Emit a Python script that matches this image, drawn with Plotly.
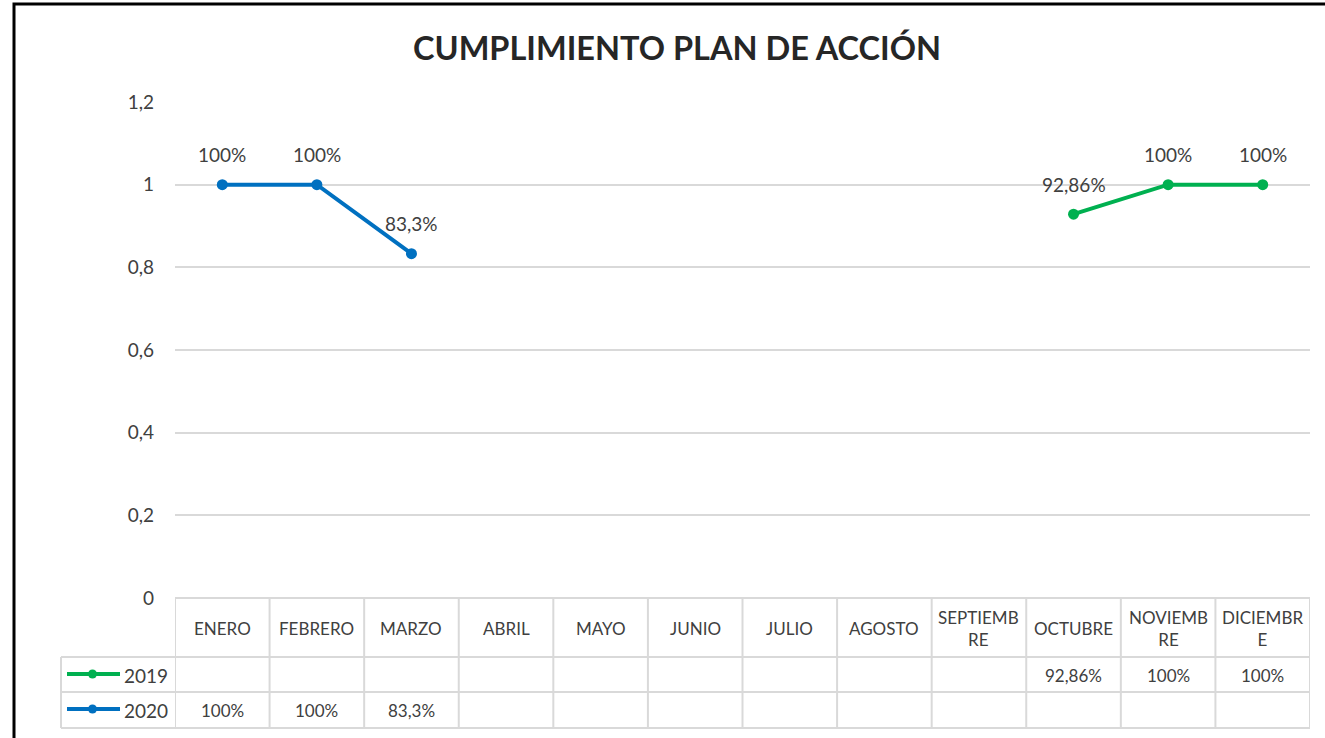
import plotly.graph_objects as go

# datos del grafico
meses = ["ENERO", "FEBRERO", "MARZO", "ABRIL", "MAYO", "JUNIO",
         "JULIO", "AGOSTO", "SEPTIEMBRE", "OCTUBRE", "NOVIEMBRE", "DICIEMBRE"]
meses_tabla = ["ENERO", "FEBRERO", "MARZO", "ABRIL", "MAYO", "JUNIO",
               "JULIO", "AGOSTO", "SEPTIEMB<br>RE", "OCTUBRE", "NOVIEMB<br>RE", "DICIEMBR<br>E"]
valores_2019 = [None, None, None, None, None, None, None, None, None, 0.9286, 1.0, 1.0]
etiquetas_2019 = ["", "", "", "", "", "", "", "", "", "92,86%", "100%", "100%"]
valores_2020 = [1.0, 1.0, 0.833, None, None, None, None, None, None, None, None, None]
etiquetas_2020 = ["100%", "100%", "83,3%", "", "", "", "", "", "", "", "", ""]

series = [
    ("2019", valores_2019, etiquetas_2019, "#00B050"),
    ("2020", valores_2020, etiquetas_2020, "#0070C0"),
]

W, H = 1325, 738
L, R, T, B = 175, 15, 102, 140
FONT = "Lato"
GRIS = "#d9d9d9"
TEXTO = "#404040"


# pixeles -> coordenadas paper
def px(x):
    return (x - L) / (W - L - R)


def py(y):
    return (H - B - y) / (H - T - B)


fig = go.Figure()
for nombre, vals, etiq, color in series:
    fig.add_trace(go.Scatter(x=meses, y=vals, mode='lines+markers', name=nombre,
                             line=dict(color=color, width=4), marker=dict(color=color, size=11),
                             connectgaps=False, showlegend=False, hoverinfo='skip'))

shapes = []
annotations = []

# marco del grafico
shapes.append(dict(type='rect', xref='paper', yref='paper', x0=px(14), x1=px(1345), y0=py(4), y1=py(760),
                   line=dict(color='black', width=3)))

# tabla de datos
filas_y = [598, 657, 692, 728]
shapes.append(dict(type='line', xref='paper', yref='paper', x0=px(175), x1=px(1310), y0=py(598), y1=py(598),
                   line=dict(color=GRIS, width=2)))
for yy in filas_y[1:]:
    shapes.append(dict(type='line', xref='paper', yref='paper', x0=px(61), x1=px(1310), y0=py(yy), y1=py(yy),
                       line=dict(color=GRIS, width=2)))
shapes.append(dict(type='line', xref='paper', yref='paper', x0=px(61), x1=px(61), y0=py(657), y1=py(728),
                   line=dict(color=GRIS, width=2)))
for i in range(len(meses) + 1):
    shapes.append(dict(type='line', xref='x', yref='paper', x0=i - 0.5, x1=i - 0.5, y0=py(598), y1=py(728),
                       line=dict(color=GRIS, width=2)))

for i, m in enumerate(meses_tabla):
    annotations.append(dict(x=meses[i], xref='x', y=py(628), yref='paper', text=m, showarrow=False,
                            font=dict(family=FONT, size=17, color=TEXTO), yanchor='middle'))

for k, (nombre, vals, etiq, color) in enumerate(series):
    yc = [675, 710][k]
    for i, t in enumerate(etiq):
        if t:
            annotations.append(dict(x=meses[i], xref='x', y=py(yc), yref='paper', text=t, showarrow=False,
                                    font=dict(family=FONT, size=17, color=TEXTO), yanchor='middle'))
            annotations.append(dict(x=meses[i], xref='x', y=vals[i], yref='y', text=t, showarrow=False,
                                    yshift=30, font=dict(family=FONT, size=19, color=TEXTO), yanchor='middle'))
    annotations.append(dict(x=px(146), xref='paper', y=py(yc), yref='paper', text=nombre, showarrow=False,
                            font=dict(family=FONT, size=19, color=TEXTO), xanchor='center', yanchor='middle'))
    # simbolo de leyenda
    shapes.append(dict(type='line', xref='paper', yref='paper', x0=px(67), x1=px(120), y0=py(yc - 1), y1=py(yc - 1),
                       line=dict(color=color, width=4)))
    shapes.append(dict(type='circle', xref='paper', yref='paper', x0=px(88), x1=px(97), y0=py(yc + 3.5), y1=py(yc - 5.5),
                       fillcolor=color, line=dict(color=color, width=0)))

annotations.append(dict(x=px(677), xref='paper', y=py(47), yref='paper', text="<b>CUMPLIMIENTO PLAN DE ACCIÓN</b>",
                        showarrow=False, font=dict(family=FONT, size=32.5, color="#262626"),
                        xanchor='center', yanchor='middle'))

fig.update_layout(
    width=W, height=H, margin=dict(l=L, r=R, t=T, b=B),
    plot_bgcolor='white', paper_bgcolor='white', separators=',.',
    shapes=shapes, annotations=annotations,
    xaxis=dict(type='category', range=[-0.5, 11.5], showticklabels=False, showgrid=False, zeroline=False),
    yaxis=dict(range=[0, 1.2], dtick=0.2, showgrid=True, gridcolor=GRIS, gridwidth=2, zeroline=False,
               ticks='', ticklabelstandoff=20, tickfont=dict(family=FONT, size=19, color=TEXTO)),
)

fig.write_html("out.html", config={'displayModeBar': False},
               post_script="document.body.style.margin='0';")
